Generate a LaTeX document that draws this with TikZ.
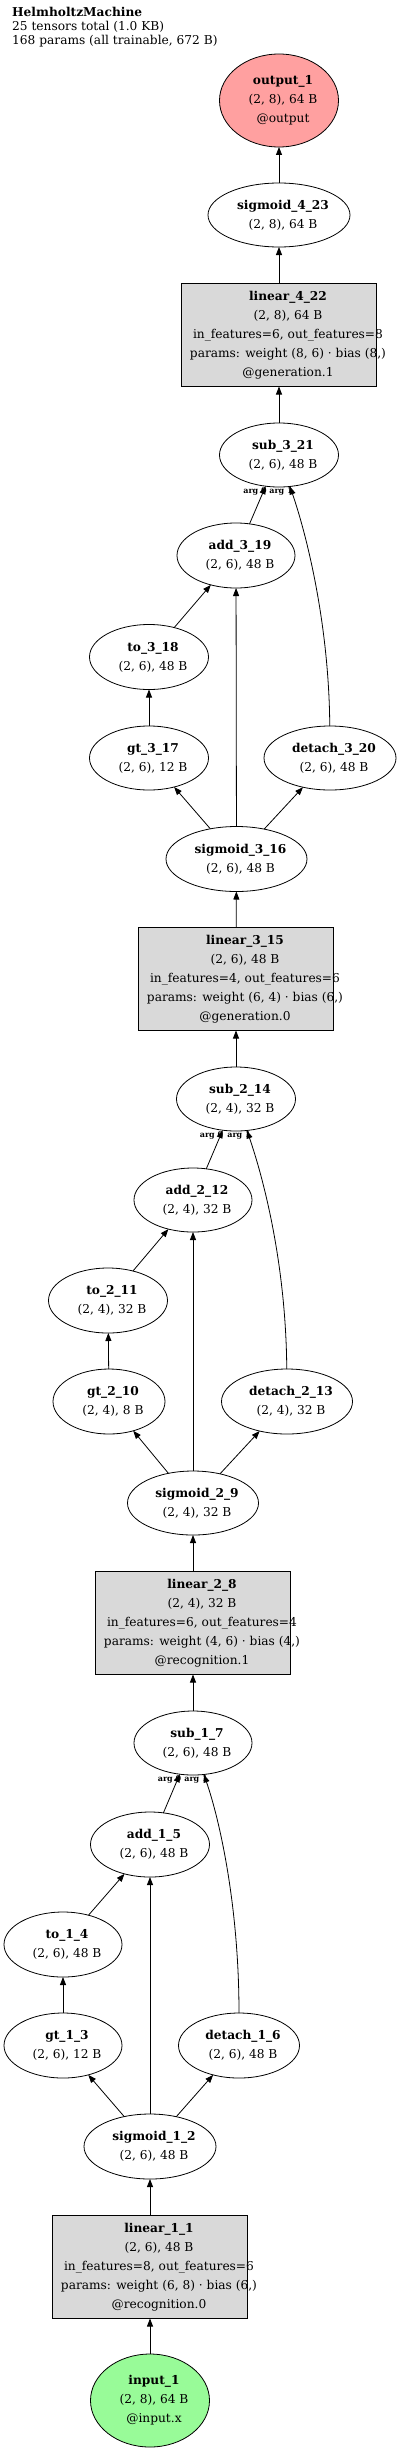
\documentclass[tikz,border=0pt]{standalone}
\usepackage{fontspec}
\setmainfont{DejaVu Serif}
\usetikzlibrary{shapes.geometric,arrows.meta}
\definecolor{outred}{RGB}{255,160,160}
\definecolor{ingreen}{RGB}{152,251,152}
\definecolor{boxgray}{RGB}{217,217,217}
\newcommand{\nfont}{\fontsize{12.2}{19}\selectfont}
\tikzset{
  ell/.style={draw, ellipse, line width=0.8pt, inner sep=0pt, outer sep=0pt},
  opbox/.style={draw, rectangle, fill=boxgray, line width=0.8pt, minimum width=195pt, minimum height=103pt, inner sep=0pt, outer sep=0pt},
  etxt/.style={align=center, inner sep=0pt, font=\nfont, xshift=4pt},
  btxt/.style={align=center, inner sep=0pt, font=\nfont, xshift=9pt},
  edge/.style={-{Triangle[length=8pt,width=6pt]}, line width=0.8pt},
  arglbl/.style={font=\bfseries\fontsize{8}{8}\selectfont, inner sep=0pt},
}
\begin{document}
\begin{tikzpicture}[x=1pt,y=-1pt]
\fill[white] (0,0) rectangle (400,2451);
\useasboundingbox (0,0) rectangle (400,2451);

% title
\node[anchor=north west, align=left, inner sep=0pt, font=\fontsize{12.2}{14}\selectfont] (title) at (12,7)
  {\textbf{HelmholtzMachine}\\25 tensors total (1.0 KB)\\168 params (all trainable, 672 B)};

% shapes
\node[ell, fill=outred, minimum width=119pt, minimum height=93pt] (o1) at (279,100.5) {};
\node[ell, minimum width=142pt, minimum height=64pt] (s423) at (279,215) {};
\node[opbox] (l422) at (279,335) {};
\node[ell, minimum width=119pt, minimum height=64pt] (sb321) at (279,455) {};
\node[ell, minimum width=118pt, minimum height=65pt] (a319) at (236,555.5) {};
\node[ell, minimum width=119pt, minimum height=65pt] (t318) at (149,657) {};
\node[ell, minimum width=119pt, minimum height=64pt] (g317) at (149,758) {};
\node[ell, minimum width=132pt, minimum height=64pt] (d320) at (330,758) {};
\node[ell, minimum width=141pt, minimum height=65pt] (s316) at (236.5,859) {};
\node[opbox] (l315) at (236,979) {};
\node[ell, minimum width=119pt, minimum height=64pt] (sb214) at (236,1099) {};
\node[ell, minimum width=118pt, minimum height=64pt] (a212) at (193,1200) {};
\node[ell, minimum width=119pt, minimum height=65pt] (t211) at (108,1300.5) {};
\node[ell, minimum width=112pt, minimum height=65pt] (g210) at (109,1401.5) {};
\node[ell, minimum width=131pt, minimum height=65pt] (d213) at (287,1401.5) {};
\node[ell, minimum width=131pt, minimum height=64pt] (s29) at (193,1503) {};
\node[opbox] (l28) at (193,1623) {};
\node[ell, minimum width=118pt, minimum height=64pt] (sb17) at (193,1743) {};
\node[ell, minimum width=119pt, minimum height=65pt] (a15) at (150,1844.5) {};
\node[ell, minimum width=118pt, minimum height=65pt] (t14) at (63,1944.5) {};
\node[ell, minimum width=118pt, minimum height=65pt] (g13) at (63,2045.5) {};
\node[ell, minimum width=121pt, minimum height=65pt] (d16) at (239,2045.5) {};
\node[ell, minimum width=132pt, minimum height=65pt] (s12) at (150,2146.5) {};
\node[opbox] (l11) at (150,2267) {};
\node[ell, fill=ingreen, minimum width=119pt, minimum height=93pt] (i1) at (150,2400.5) {};

% texts
\node[etxt] (o1t) at (o1.center) {\textbf{output\_1}\\(2, 8), 64 B\\@output};
\node[etxt] (s423t) at (s423.center) {\textbf{sigmoid\_4\_23}\\(2, 8), 64 B};
\node[btxt] (l422t) at (l422.center) {\textbf{linear\_4\_22}\\(2, 8), 64 B\\in\_features=6, out\_features=8\\params: weight (8, 6) · bias (8,)\\@generation.1};
\node[etxt] (sb321t) at (sb321.center) {\textbf{sub\_3\_21}\\(2, 6), 48 B};
\node[etxt] (a319t) at (a319.center) {\textbf{add\_3\_19}\\(2, 6), 48 B};
\node[etxt] (t318t) at (t318.center) {\textbf{to\_3\_18}\\(2, 6), 48 B};
\node[etxt] (g317t) at (g317.center) {\textbf{gt\_3\_17}\\(2, 6), 12 B};
\node[etxt] (d320t) at (d320.center) {\textbf{detach\_3\_20}\\(2, 6), 48 B};
\node[etxt] (s316t) at (s316.center) {\textbf{sigmoid\_3\_16}\\(2, 6), 48 B};
\node[btxt] (l315t) at (l315.center) {\textbf{linear\_3\_15}\\(2, 6), 48 B\\in\_features=4, out\_features=6\\params: weight (6, 4) · bias (6,)\\@generation.0};
\node[etxt] (sb214t) at (sb214.center) {\textbf{sub\_2\_14}\\(2, 4), 32 B};
\node[etxt] (a212t) at (a212.center) {\textbf{add\_2\_12}\\(2, 4), 32 B};
\node[etxt] (t211t) at (t211.center) {\textbf{to\_2\_11}\\(2, 4), 32 B};
\node[etxt] (g210t) at (g210.center) {\textbf{gt\_2\_10}\\(2, 4), 8 B};
\node[etxt] (d213t) at (d213.center) {\textbf{detach\_2\_13}\\(2, 4), 32 B};
\node[etxt] (s29t) at (s29.center) {\textbf{sigmoid\_2\_9}\\(2, 4), 32 B};
\node[btxt] (l28t) at (l28.center) {\textbf{linear\_2\_8}\\(2, 4), 32 B\\in\_features=6, out\_features=4\\params: weight (4, 6) · bias (4,)\\@recognition.1};
\node[etxt] (sb17t) at (sb17.center) {\textbf{sub\_1\_7}\\(2, 6), 48 B};
\node[etxt] (a15t) at (a15.center) {\textbf{add\_1\_5}\\(2, 6), 48 B};
\node[etxt] (t14t) at (t14.center) {\textbf{to\_1\_4}\\(2, 6), 48 B};
\node[etxt] (g13t) at (g13.center) {\textbf{gt\_1\_3}\\(2, 6), 12 B};
\node[etxt] (d16t) at (d16.center) {\textbf{detach\_1\_6}\\(2, 6), 48 B};
\node[etxt] (s12t) at (s12.center) {\textbf{sigmoid\_1\_2}\\(2, 6), 48 B};
\node[btxt] (l11t) at (l11.center) {\textbf{linear\_1\_1}\\(2, 6), 48 B\\in\_features=8, out\_features=6\\params: weight (6, 8) · bias (6,)\\@recognition.0};
\node[etxt] (i1t) at (i1.center) {\textbf{input\_1}\\(2, 8), 64 B\\@input.x};

% arg labels
\node[arglbl] (sb321a0) at (255,491) {arg 0};
\node[arglbl] (sb321a1) at (281,491) {arg 1};
\node[arglbl] (sb214a0) at (211.5,1135) {arg 0};
\node[arglbl] (sb214a1) at (239,1135) {arg 1};
\node[arglbl] (sb17a0) at (169.5,1779) {arg 0};
\node[arglbl] (sb17a1) at (196,1779) {arg 1};

% edges
\draw[edge] (i1) -- (l11);
\draw[edge] (l11) -- (s12);
\draw[edge] (s12) -- (g13);
\draw[edge] (s12) -- (a15);
\draw[edge] (s12) -- (d16);
\draw[edge] (g13) -- (t14);
\draw[edge] (t14) -- (a15);
\draw[edge] (a15) -- (sb17);
\draw[edge] (d16) .. controls (239,1907) and (220,1821) .. (sb17);
\draw[edge] (sb17) -- (l28);
\draw[edge] (l28) -- (s29);
\draw[edge] (s29) -- (g210);
\draw[edge] (s29) -- (a212);
\draw[edge] (s29) -- (d213);
\draw[edge] (g210) -- (t211);
\draw[edge] (t211) -- (a212);
\draw[edge] (a212) -- (sb214);
\draw[edge] (d213) .. controls (286,1263) and (263,1177) .. (sb214);
\draw[edge] (sb214) -- (l315);
\draw[edge] (l315) -- (s316);
\draw[edge] (s316) -- (g317);
\draw[edge] (s316) -- (a319);
\draw[edge] (s316) -- (d320);
\draw[edge] (g317) -- (t318);
\draw[edge] (t318) -- (a319);
\draw[edge] (a319) -- (sb321);
\draw[edge] (d320) .. controls (329,620) and (305,530) .. (sb321);
\draw[edge] (sb321) -- (l422);
\draw[edge] (l422) -- (s423);
\draw[edge] (s423) -- (o1);
\end{tikzpicture}
\end{document}
